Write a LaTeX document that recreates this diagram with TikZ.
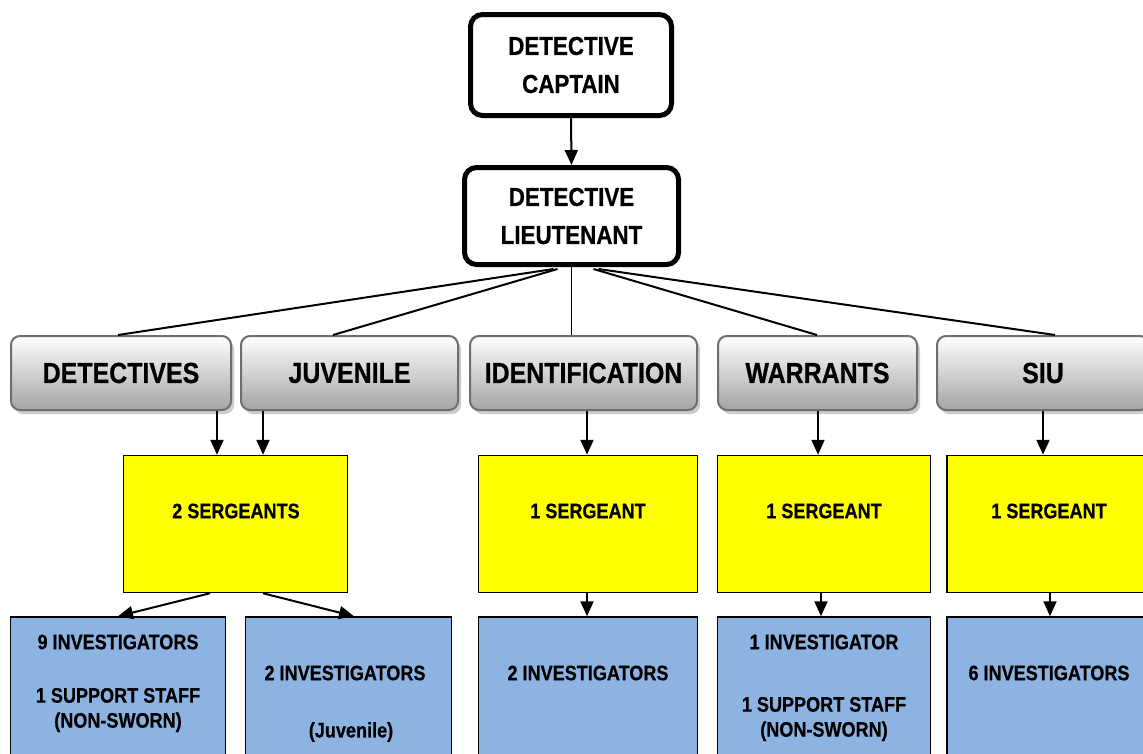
\documentclass[tikz,border=0pt]{standalone}
\usepackage{fontspec}
\setmainfont{Liberation Sans}[FakeStretch=0.86,BoldFeatures={FakeBold=0.6}]
\usetikzlibrary{arrows.meta,shadows}
\definecolor{ybox}{HTML}{FFFF00}
\definecolor{bbox}{HTML}{8DB3E2}
\definecolor{gborder}{HTML}{6E6E6E}
\definecolor{gbot}{HTML}{A4A4A4}
\begin{document}
\begin{tikzpicture}[x=1pt,y=-1pt,
  topbox/.style={draw=black,line width=5pt,rounded corners=12pt,fill=white,
    align=center,font=\bfseries\fontsize{26}{38}\selectfont,inner sep=0pt},
  unitbox/.style={draw=gborder,line width=2pt,rounded corners=9pt,
    top color=white,bottom color=gbot,minimum height=74pt,
    font=\bfseries\fontsize{29}{34}\selectfont,inner sep=0pt,
    drop shadow={shadow xshift=3pt,shadow yshift=-4pt,fill=black!25,opacity=0.8}},
  sgtbox/.style={draw=black,line width=1.5pt,fill=ybox,minimum height=137pt,inner sep=0pt},
  invbox/.style={draw=black,line width=1.5pt,fill=bbox,minimum height=150pt,inner sep=0pt},
  lbl/.style={font=\bfseries\fontsize{21}{25}\selectfont,inner sep=0pt,align=center},
  conn/.style={line width=2pt},
  arr/.style={line width=2pt,-{Triangle[length=15pt,width=13pt]}}]
\useasboundingbox (0,0) rectangle (1143,753);

% top boxes
\node[topbox,minimum width=201pt,minimum height=101pt] (cap) at (571,65) {DETECTIVE\\CAPTAIN};
\node[topbox,minimum width=214pt,minimum height=97pt] (lt) at (571.5,216) {DETECTIVE\\LIEUTENANT};

% unit boxes
\node[unitbox,minimum width=220pt] (det) at (121,373) {DETECTIVES};
\node[unitbox,minimum width=217pt] (juv) at (349.5,373) {JUVENILE};
\node[unitbox,minimum width=227pt] (idf) at (583.5,373) {IDENTIFICATION};
\node[unitbox,minimum width=199pt] (war) at (817.5,373) {WARRANTS};
\node[unitbox,minimum width=212pt] (siu) at (1043,373) {SIU};

% sergeant boxes
\node[sgtbox,minimum width=224pt] (sg2) at (235.5,524) {};
\node[sgtbox,minimum width=219pt] (sgi) at (588,524) {};
\node[sgtbox,minimum width=213pt] (sgw) at (824,524) {};
\node[sgtbox,minimum width=204pt] (sgs) at (1049,524) {};
\node[lbl] (sg2t) at (236,511) {2 SERGEANTS};
\node[lbl] (sgit) at (588,511) {1 SERGEANT};
\node[lbl] (sgwt) at (824,511) {1 SERGEANT};
\node[lbl] (sgst) at (1049,511) {1 SERGEANT};

% investigator boxes
\node[invbox,minimum width=215pt] (b1) at (118,692) {};
\node[invbox,minimum width=206pt] (b2) at (348.5,692) {};
\node[invbox,minimum width=219pt] (bi) at (588,692) {};
\node[invbox,minimum width=213pt] (bw) at (824,692) {};
\node[invbox,minimum width=204pt] (bs) at (1049,692) {};
\node[lbl] (b1a) at (118,642) {9 INVESTIGATORS};
\node[lbl] (b1b) at (118,710) {1 SUPPORT STAFF\\(NON-SWORN)};
\node[lbl] (b2a) at (345,673) {2 INVESTIGATORS};
\node[lbl] (b2b) at (351,732) {(Juvenile)};
\node[lbl] (bia) at (588,673) {2 INVESTIGATORS};
\node[lbl] (bwa) at (824,642) {1 INVESTIGATOR};
\node[lbl] (bwb) at (824,719) {1 SUPPORT STAFF\\(NON-SWORN)};
\node[lbl] (bsa) at (1049,673) {6 INVESTIGATORS};

% connectors
\draw[arr] (cap.south) -- (lt.north);
\draw[conn] ([xshift=-18pt,yshift=-2pt]lt.south) -- (118,0 |- det.north);
\draw[conn] ([xshift=-14pt,yshift=-2pt]lt.south) -- (333,0 |- juv.north);
\draw[line width=1.5pt] (lt.south) -- (571.5,0 |- idf.north);
\draw[conn] ([xshift=22pt,yshift=-2pt]lt.south) -- (817,0 |- war.north);
\draw[conn] ([xshift=27pt,yshift=-2pt]lt.south) -- (1055,0 |- siu.north);

\draw[arr] (217,0 |- det.south) -- (217,0 |- sg2.north);
\draw[arr] (263,0 |- juv.south) -- (263,0 |- sg2.north);
\draw[arr] (587,0 |- idf.south) -- (587,0 |- sgi.north);
\draw[arr] (818,0 |- war.south) -- (818,0 |- sgw.north);
\draw[arr] (1043,0 |- siu.south) -- (1043,0 |- sgs.north);

\draw[arr] (210,0 |- sg2.south) -- (118,0 |- b1.north);
\draw[arr] (263,0 |- sg2.south) -- (354,0 |- b2.north);
\draw[arr] (587,0 |- sgi.south) -- (587,0 |- bi.north);
\draw[arr] (821,0 |- sgw.south) -- (821,0 |- bw.north);
\draw[arr] (1050,0 |- sgs.south) -- (1050,0 |- bs.north);
\end{tikzpicture}
\end{document}
